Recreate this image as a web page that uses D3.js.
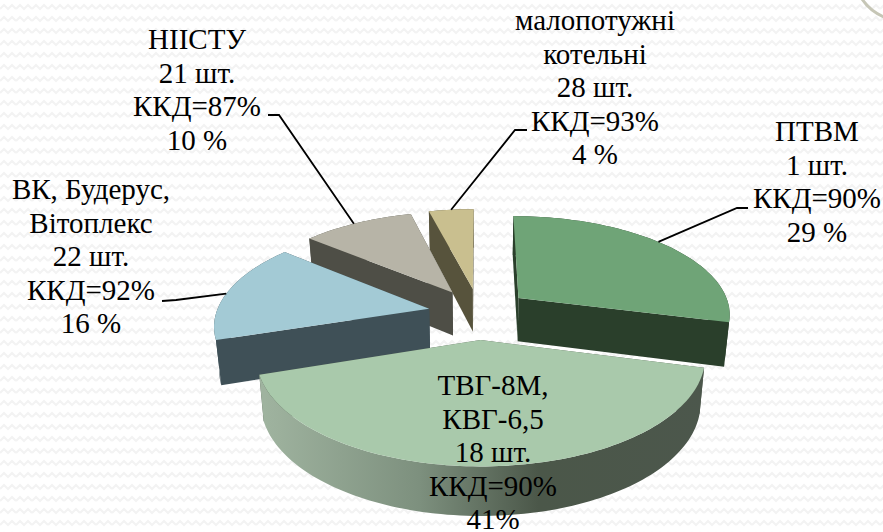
<!DOCTYPE html>
<html lang="uk">
<head>
  <meta charset="UTF-8">
  <title>Котельні</title>
  <script src="https://d3js.org/d3.v7.min.js"></script>
  <style>
    html, body { margin: 0; padding: 0; background: #fff; }
    svg { display: block; }
    text { font-family: "Liberation Serif", serif; font-size: 29px; fill: #000; text-anchor: middle; }
  </style>
</head>
<body>
  <svg id="chart" width="883" height="532"></svg>

  <script>
    // values
    const names = [["ПТВМ"], ["ТВГ-8М,", "КВГ-6,5"], ["ВК, Будерус,", "Вітоплекс"], ["НІІСТУ"], ["малопотужні", "котельні"]];
    const counts = ["1 шт.", "18 шт.", "22 шт.", "21 шт.", "28 шт."];
    const efficiency = ["ККД=90%", "ККД=90%", "ККД=92%", "ККД=87%", "ККД=93%"];
    const shares = [29, 41, 16, 10, 4];
    const shareLabels = ["29 %", "41%", "16 %", "10 %", "4 %"];

    // styling, same order as above
    const topColors = ["#6fa477", "#a9c9ab", "#a3cad5", "#b7b4a7", "#c9bf8f"];
    const wallColors = ["#2a3f2b", "#4a5548", "#3f5057", "#4e4e46", "#57533c"];
    const labelPos = [[817, 141], [493, 395], [91, 199], [197, 49], [595, 30]];
    // leader: angle fraction inside slice, elbow, end
    const leaders = [
      [0.47, [737, 208], [748, 208]],
      null,
      [0.47, [176, 300], [162, 301]],
      [0.47, [279, 115], [268, 115]],
      [0.5, [515, 130], [527, 130]]
    ];

    const width = 883, height = 532;
    const cx = 479, cy = 313.4, R = 213, ry = 98.5, persp = 0.15, depth = 44;
    const explodeX = 0.24, explodeY = 0.26;

    const svg = d3.select("#chart");
    const defs = svg.append("defs");

    // faint zigzag paper
    const pattern = defs.append("pattern")
      .attr("id", "paper")
      .attr("width", 16).attr("height", 12)
      .attr("patternUnits", "userSpaceOnUse");
    pattern.append("path")
      .attr("d", "M0,9 L4,5 L8,9 L12,5 L16,9")
      .attr("fill", "none").attr("stroke", "#f3f3f3").attr("stroke-width", 2);

    const front = defs.append("linearGradient")
      .attr("id", "frontWall")
      .attr("gradientUnits", "userSpaceOnUse")
      .attr("x1", 265).attr("x2", 706).attr("y1", 0).attr("y2", 0);
    front.append("stop").attr("offset", "0%").attr("stop-color", "#9fb39f");
    front.append("stop").attr("offset", "35%").attr("stop-color", "#7d907e");
    front.append("stop").attr("offset", "62%").attr("stop-color", "#4b5749");
    front.append("stop").attr("offset", "100%").attr("stop-color", "#4c574c");

    svg.append("rect").attr("width", width).attr("height", height).attr("fill", "url(#paper)");
    svg.append("path")
      .attr("d", "M862,-1 Q870,11 884,17")
      .attr("fill", "none").attr("stroke", "#c6c6b6").attr("stroke-width", 3);

    const pie = d3.pie().sort(null).value(d => d);
    const slices = pie(shares).map((s, i) => {
      const mid = (s.startAngle + s.endAngle) / 2;
      return { ...s, i, mid, ox: explodeX * Math.sin(mid), oy: -explodeY * Math.cos(mid) };
    });

    // disc coordinates (v towards the viewer) to screen, h = 0 top face, h = 1 bottom face
    function project(u, v, h) {
      const f = 1 / (1 - persp * v);
      return [
        cx + (R * u * f) * (1 - 0.02 * h),
        cy + ry * v * f + h * depth * (1 + 0.1 * v)
      ];
    }
    const rim = (s, a, h) => project(s.ox + Math.sin(a), s.oy - Math.cos(a), h);
    const tip = (s, h) => project(s.ox, s.oy, h);
    const line = d3.line();

    function arcAngles(s) {
      const n = Math.max(8, Math.round((s.endAngle - s.startAngle) * 40));
      return d3.range(n + 1).map(k => s.startAngle + (s.endAngle - s.startAngle) * k / n);
    }

    const order = slices.slice().sort((a, b) => a.oy - b.oy);

    order.forEach(s => {
      const g = svg.append("g");
      const angles = arcAngles(s);
      const wallFill = s.i === 1 ? "url(#frontWall)" : wallColors[s.i];

      const walls = [
        { v: s.oy - Math.cos(s.startAngle) / 2,
          pts: [tip(s, 0), rim(s, s.startAngle, 0), rim(s, s.startAngle, 1), tip(s, 1)],
          fill: wallColors[s.i] },
        { v: s.oy - Math.cos(s.endAngle) / 2,
          pts: [tip(s, 0), rim(s, s.endAngle, 0), rim(s, s.endAngle, 1), tip(s, 1)],
          fill: wallColors[s.i] },
        { v: s.oy - d3.mean(angles, a => Math.cos(a)),
          pts: angles.map(a => rim(s, a, 0)).concat(angles.slice().reverse().map(a => rim(s, a, 1))),
          fill: wallFill }
      ].sort((a, b) => a.v - b.v);

      walls.forEach(w => {
        g.append("path").attr("d", line(w.pts) + "Z").attr("fill", w.fill);
      });

      g.append("path")
        .attr("d", line([tip(s, 0)].concat(angles.map(a => rim(s, a, 0)))) + "Z")
        .attr("fill", topColors[s.i]);
    });

    // leader lines
    slices.forEach(s => {
      const l = leaders[s.i];
      if (!l) return;
      const a = s.startAngle + (s.endAngle - s.startAngle) * l[0];
      svg.append("path")
        .attr("d", line([rim(s, a, 0), l[1], l[2]]))
        .attr("fill", "none").attr("stroke", "#000").attr("stroke-width", 1.8);
    });

    // labels
    slices.forEach(s => {
      const lines = names[s.i].concat([counts[s.i], efficiency[s.i], shareLabels[s.i]]);
      const t = svg.append("text");
      lines.forEach((txt, k) => {
        t.append("tspan")
          .attr("x", labelPos[s.i][0])
          .attr("y", labelPos[s.i][1] + k * 33.6)
          .text(txt);
      });
    });
  </script>
</body>
</html>
